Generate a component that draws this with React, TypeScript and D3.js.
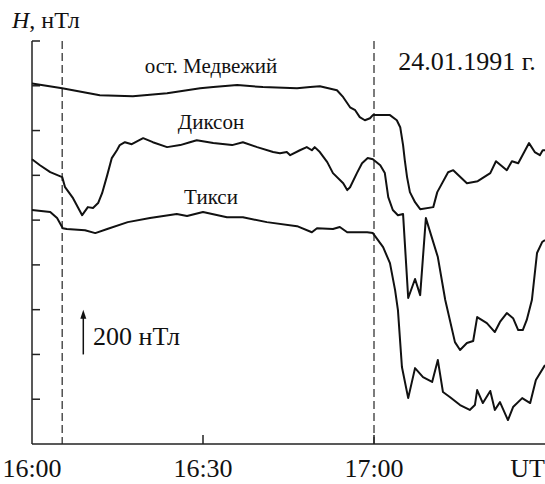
import React from "react";
import * as d3 from "d3";

// time in minutes after 16:00 UT, H in nT (arbitrary offsets per station)
const medvT = [0, 5.3, 11.9, 17.7, 23.7, 29.5, 31.8, 36.0, 40.5, 46.5, 48.8, 50.5, 53.5, 54.6, 55.8, 56.7, 57.5, 58.4, 59.3, 59.8, 62.8, 64.0, 64.6, 65.1, 65.4, 65.8, 66.3, 67.2, 68.1, 70.4, 71.1, 73.0, 73.9, 76.3, 78.2, 80.4, 81.4, 83.3, 84.2, 85.3, 87.2, 88.2, 89.1, 89.6, 90.0];
const medvH = [1610, 1589, 1558, 1553, 1567, 1589, 1594, 1603, 1594, 1589, 1594, 1598, 1580, 1549, 1504, 1491, 1460, 1446, 1455, 1469, 1469, 1446, 1415, 1335, 1268, 1192, 1125, 1080, 1049, 1058, 1125, 1214, 1223, 1165, 1174, 1210, 1263, 1223, 1263, 1254, 1344, 1304, 1290, 1312, 1312];

const diksT = [0, 1.4, 3.2, 5.3, 5.8, 7.2, 8.8, 9.8, 10.7, 11.6, 12.3, 13.2, 14.0, 14.9, 15.4, 16.3, 17.5, 19.5, 21.2, 23.7, 26.0, 27.7, 28.9, 31.8, 35.1, 37.0, 39.5, 42.3, 43.5, 44.7, 45.3, 47.0, 48.2, 49.1, 49.6, 50.5, 51.8, 52.8, 54.6, 55.3, 55.8, 57.0, 57.9, 58.9, 59.8, 61.1, 61.9, 62.5, 63.3, 64.2, 65.1, 66.0, 67.2, 68.1, 69.1, 71.2, 72.5, 74.2, 75.1, 76.3, 77.4, 78.1, 79.8, 81.2, 82.1, 83.3, 84.4, 85.3, 86.1, 86.8, 87.7, 88.6, 89.5, 90.0];
const diksH = [1272, 1245, 1214, 1192, 1147, 1098, 1022, 1058, 1054, 1076, 1120, 1201, 1277, 1312, 1335, 1348, 1339, 1366, 1348, 1326, 1335, 1348, 1357, 1344, 1335, 1348, 1326, 1304, 1299, 1304, 1290, 1312, 1326, 1312, 1326, 1304, 1259, 1210, 1165, 1134, 1147, 1210, 1254, 1277, 1272, 1245, 1210, 1103, 1045, 1022, 1027, 652, 737, 665, 1009, 835, 643, 455, 420, 451, 460, 567, 540, 500, 545, 585, 562, 509, 509, 554, 643, 853, 902, 911];

const tiksT = [0, 3.2, 4.4, 5.4, 6.1, 9.3, 11.1, 13.2, 16.8, 20.7, 25.4, 27.2, 30.0, 34.2, 37.0, 41.2, 46.5, 49.1, 50.0, 52.8, 54.0, 55.3, 58.8, 59.8, 61.6, 62.8, 63.7, 64.2, 64.9, 66.0, 67.2, 68.6, 70.2, 71.2, 72.1, 73.3, 75.1, 76.8, 77.7, 78.1, 79.1, 80.4, 81.2, 82.1, 83.5, 84.4, 86.0, 87.4, 88.4, 90.0];
const tiksH = [1045, 1036, 1009, 964, 960, 955, 942, 960, 991, 1009, 1027, 1018, 1036, 1013, 1013, 991, 973, 946, 964, 960, 969, 946, 946, 942, 879, 808, 687, 598, 344, 205, 339, 299, 277, 375, 232, 210, 174, 152, 174, 241, 183, 237, 152, 187, 107, 165, 205, 183, 286, 353];

const stationNames = ["ост. Медвежий", "Диксон", "Тикси"];
const xTickValues = [0, 30, 60];
const xTickLabels = ["16:00", "16:30", "17:00"];
const xUnitLabel = "UT";
const yTickValues = [200, 400, 600, 800, 1000, 1200, 1400, 1600, 1800];
const dashedTimes = [5.3, 60];
const arrowFrom = 400;
const arrowTo = 600;
const arrowTime = 9;
const arrowLabel = "200 нТл";
const dateLabel = "24.01.1991 г.";

const W = 545;
const H = 484;

function T(props: any) {
  const { children, ...rest } = props;
  return (
    <text fontFamily="Liberation Serif" fill="#111" style={{ fontFamily: "Liberation Serif" }} {...rest}>
      {children}
    </text>
  );
}

export default function App() {
  const x = d3.scaleLinear().domain([0, 90]).range([32, 545]);
  const y = d3.scaleLinear().domain([0, 1800]).range([444, 41]);

  const line = d3
    .line<[number, number]>()
    .x((d) => x(d[0]))
    .y((d) => y(d[1]))
    .curve(d3.curveLinear);

  const series = [
    { t: medvT, h: medvH },
    { t: diksT, h: diksH },
    { t: tiksT, h: tiksH },
  ];

  const labelPos = [
    { x: 211, y: 73 },
    { x: 211, y: 129 },
    { x: 211, y: 204 },
  ];

  const ax = x(arrowTime);
  const ayTop = y(arrowTo);
  const ayBot = y(arrowFrom);

  return (
    <svg width={W} height={H} style={{ position: "absolute", left: 0, top: 0 }}>
      <style>{`text { font-family: "Liberation Serif"; }`}</style>
      <rect x={0} y={0} width={W} height={H} fill="#fff" />
      {dashedTimes.map((t, i) => (
        <line
          key={"d" + i}
          x1={x(t)}
          x2={x(t)}
          y1={y(1800)}
          y2={y(0)}
          stroke="#444"
          strokeWidth={1.4}
          strokeDasharray="8,4"
        />
      ))}
      <line x1={x(0)} x2={x(0)} y1={y(1800)} y2={y(0)} stroke="#222" strokeWidth={1.5} />
      <line x1={x(0)} x2={x(90)} y1={y(0)} y2={y(0)} stroke="#222" strokeWidth={1.5} />
      {yTickValues.map((v) => (
        <line key={"yt" + v} x1={x(0)} x2={x(0) + 8} y1={y(v)} y2={y(v)} stroke="#222" strokeWidth={1.5} />
      ))}
      {xTickValues.map((t, i) =>
        t > 0 ? (
          <line key={"xt" + t} x1={x(t)} x2={x(t)} y1={y(0)} y2={y(0) - 9} stroke="#222" strokeWidth={1.5} />
        ) : null
      )}
      {xTickValues.map((t, i) => (
        <T key={"xl" + t} x={x(t)} y={477} fontSize={26} textAnchor="middle">
          {xTickLabels[i]}
        </T>
      ))}
      <T x={x(90)} y={477} fontSize={26} textAnchor="end">
        {xUnitLabel}
      </T>
      {series.map((s, i) => (
        <path
          key={"s" + i}
          d={line(s.t.map((t, j) => [t, s.h[j]] as [number, number])) || ""}
          fill="none"
          stroke="#111"
          strokeWidth={2}
          strokeLinejoin="round"
        />
      ))}
      {stationNames.map((n, i) => (
        <T key={"l" + i} x={labelPos[i].x} y={labelPos[i].y} fontSize={21} textAnchor="middle">
          {n}
        </T>
      ))}
      <T x={12} y={28} fontSize={24}>
        <tspan fontStyle="italic">H</tspan>, нТл
      </T>
      <T x={467} y={70} fontSize={26} textAnchor="middle">
        {dateLabel}
      </T>
      <line x1={ax} x2={ax} y1={ayBot} y2={ayTop + 6} stroke="#111" strokeWidth={1.5} />
      <path d={`M${ax},${ayTop} L${ax - 3},${ayTop + 9} L${ax + 3},${ayTop + 9} Z`} fill="#111" />
      <T x={93} y={345} fontSize={26}>
        {arrowLabel}
      </T>
    </svg>
  );
}
